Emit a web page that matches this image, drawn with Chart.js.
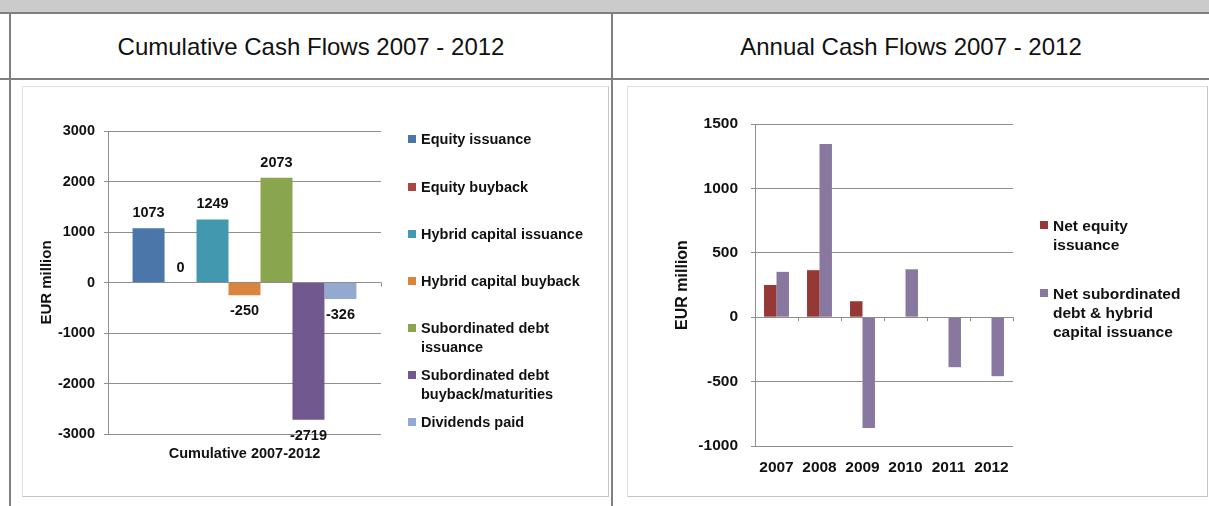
<!DOCTYPE html>
<html>
<head>
<meta charset="utf-8">
<script src="https://cdn.jsdelivr.net/npm/chart.js@4.4.1/dist/chart.umd.min.js"></script>
<style>
  body { margin: 0; width: 1209px; height: 506px; overflow: hidden; background: #fff; font-family: "Liberation Sans", Arial, sans-serif; }
  .abs { position: absolute; }
  .band { left: 0; top: 0; width: 1209px; height: 12px; background: #cbcbcb; }
  .hline { height: 2px; background: #808080; }
  .vline { width: 2px; background: #808080; }
  .title { font-size: 24px; color: #111; text-align: center; line-height: 65px; }
  .frame { border: 1px solid #c4c4c4; border-top-color: #e0e0e0; border-left-color: #e0e0e0; box-sizing: border-box; }
  .legend { font-weight: bold; color: #111; }
  .legend .item { position: absolute; white-space: nowrap; }
  .legend .sw { position: absolute; width: 8px; height: 8px; }
</style>
</head>
<body>
<div class="abs band"></div>
<div class="abs hline" style="left:0;top:12px;width:1209px;"></div>
<div class="abs hline" style="left:0;top:78px;width:1209px;"></div>
<div class="abs vline" style="left:9px;top:12px;height:494px;"></div>
<div class="abs vline" style="left:611px;top:12px;height:494px;"></div>
<div class="abs title" style="left:11px;top:14px;width:600px;">Cumulative Cash Flows 2007 - 2012</div>
<div class="abs title" style="left:613px;top:14px;width:596px;">Annual Cash Flows 2007 - 2012</div>

<div class="abs frame" style="left:22px;top:86px;width:587px;height:411px;"></div>
<div class="abs frame" style="left:627px;top:86px;width:581px;height:411px;"></div>

<canvas id="cumChart" class="abs" style="left:23px;top:87px;"></canvas>
<canvas id="annChart" class="abs" style="left:628px;top:87px;"></canvas>

<div id="cumLegend" class="abs legend" style="left:0;top:0;font-size:14.5px;"></div>
<div id="annLegend" class="abs legend" style="left:0;top:0;font-size:15.5px;"></div>

<script>
// Cumulative chart data
const cumCategory = ['Cumulative 2007-2012'];
const cumSeries = ['Equity issuance', 'Equity buyback', 'Hybrid capital issuance', 'Hybrid capital buyback',
    ['Subordinated debt', 'issuance'], ['Subordinated debt', 'buyback/maturities'], 'Dividends paid'];
const cumValues = [1073, 0, 1249, -250, 2073, -2719, -326];
const cumColors = ['#4A76AA', '#AA4643', '#4198AF', '#DB843D', '#89A54E', '#71588F', '#93A9CF'];
const cumTicks = [-3000, -2000, -1000, 0, 1000, 2000, 3000];

// Annual chart data
const years = ['2007', '2008', '2009', '2010', '2011', '2012'];
const netEquity = [250, 365, 124, 0, 0, 0];
const netSubDebt = [352, 1345, -860, 372, -388, -458];
const annSeries = [['Net equity', 'issuance'], ['Net subordinated', 'debt & hybrid', 'capital issuance']];
const annColors = ['#953836', '#8878A0'];
const annTicks = [-1000, -500, 0, 500, 1000, 1500];

const FONT = '"Liberation Sans", Arial, sans-serif';
const GRID = '#8e8e8e';

// value labels above / below each bar
const valueLabels = {
    id: 'valueLabels',
    afterDatasetsDraw(chart) {
        const ctx = chart.ctx;
        ctx.save();
        ctx.font = 'bold 14.5px ' + FONT;
        ctx.fillStyle = '#111';
        ctx.textAlign = 'center';
        ctx.textBaseline = 'middle';
        chart.data.datasets.forEach((ds, i) => {
            chart.getDatasetMeta(i).data.forEach((bar, j) => {
                const v = ds.data[j];
                ctx.fillText(String(v), bar.x, v >= 0 ? bar.y - 15 : bar.y + 16);
            });
        });
        ctx.restore();
    }
};

// small tick marks on the zero line at category boundaries
const zeroTicks = {
    id: 'zeroTicks',
    afterDraw(chart) {
        const x = chart.scales.x, y = chart.scales.y;
        const y0 = y.getPixelForValue(0);
        const ctx = chart.ctx;
        ctx.save();
        ctx.strokeStyle = GRID;
        ctx.lineWidth = 1;
        ctx.beginPath();
        for (let i = 0; i <= chart.data.labels.length; i++) {
            const px = Math.round(x.getPixelForValue(i - 0.5)) + 0.5;
            ctx.moveTo(px, y0);
            ctx.lineTo(px, y0 + 4);
        }
        ctx.stroke();
        ctx.restore();
    }
};

function fixedTicks(list) {
    return (scale) => { scale.ticks = list.map(v => ({ value: v })); };
}

function makeLegend(el, labels, colors, x, rows, lineH) {
    labels.forEach((lab, i) => {
        const lines = Array.isArray(lab) ? lab : [lab];
        const item = document.createElement('div');
        item.className = 'item';
        item.style.left = (x + 13) + 'px';
        item.style.top = (rows[i] - lineH / 2) + 'px';
        item.style.lineHeight = lineH + 'px';
        item.innerHTML = lines.join('<br>');
        const sw = document.createElement('div');
        sw.className = 'sw';
        sw.style.background = colors[i];
        sw.style.left = x + 'px';
        sw.style.top = (rows[i] - 4) + 'px';
        el.appendChild(sw);
        el.appendChild(item);
    });
}

const cumCanvas = document.getElementById('cumChart');
cumCanvas.width = 585; cumCanvas.height = 409;
new Chart(cumCanvas.getContext('2d'), {
    type: 'bar',
    data: {
        labels: cumCategory,
        datasets: cumSeries.map((s, i) => ({
            label: Array.isArray(s) ? s.join(' ') : s,
            data: [cumValues[i]],
            backgroundColor: cumColors[i],
            barPercentage: 1,
            categoryPercentage: 0.82
        }))
    },
    options: {
        responsive: false,
        animation: false,
        layout: { padding: { left: 6, top: 44, right: 227, bottom: 22 } },
        plugins: { legend: { display: false }, tooltip: { enabled: false } },
        scales: {
            x: {
                grid: { display: false, drawTicks: false },
                border: { display: false },
                ticks: { color: '#111', font: { family: FONT, size: 14.5, weight: 'bold' }, padding: 11 },
                afterFit: (s) => { s.height = 40; }
            },
            y: {
                min: -3000, max: 3000,
                afterBuildTicks: fixedTicks(cumTicks),
                grid: { color: GRID, tickLength: 4 },
                border: { color: GRID },
                ticks: { color: '#111', font: { family: FONT, size: 14.5, weight: 'bold' }, padding: 9, callback: (v) => String(v) },
                title: { display: true, text: 'EUR million', color: '#111', font: { family: FONT, size: 15, weight: 'bold' }, padding: { top: 9, bottom: 0 } },
                afterFit: (s) => { s.width = 79; }
            }
        }
    },
    plugins: [valueLabels, zeroTicks]
});

const annCanvas = document.getElementById('annChart');
annCanvas.width = 579; annCanvas.height = 409;
new Chart(annCanvas.getContext('2d'), {
    type: 'bar',
    data: {
        labels: years,
        datasets: [netEquity, netSubDebt].map((d, i) => ({
            label: annSeries[i].join(' '),
            data: d,
            backgroundColor: annColors[i],
            barPercentage: 1,
            categoryPercentage: 0.58
        }))
    },
    options: {
        responsive: false,
        animation: false,
        layout: { padding: { left: 40, top: 37, right: 194, bottom: 10 } },
        plugins: { legend: { display: false }, tooltip: { enabled: false } },
        scales: {
            x: {
                grid: { display: false, drawTicks: false },
                border: { display: false },
                ticks: { color: '#111', font: { family: FONT, size: 15.5, weight: 'bold' }, padding: 12 },
                afterFit: (s) => { s.height = 40; }
            },
            y: {
                min: -1000, max: 1500,
                afterBuildTicks: fixedTicks(annTicks),
                grid: { color: GRID, tickLength: 4 },
                border: { color: GRID },
                ticks: { color: '#111', font: { family: FONT, size: 15.5, weight: 'bold' }, padding: 13, callback: (v) => String(v) },
                title: { display: true, text: 'EUR million', color: '#111', font: { family: FONT, size: 16, weight: 'bold' }, padding: { top: 5, bottom: 0 } },
                afterFit: (s) => { s.width = 87; }
            }
        }
    },
    plugins: [zeroTicks]
});

makeLegend(document.getElementById('cumLegend'), cumSeries, cumColors, 408, [139, 187, 234, 281, 328, 375, 422], 19);
makeLegend(document.getElementById('annLegend'), annSeries, annColors, 1040, [225, 293], 19);
</script>
</body>
</html>
